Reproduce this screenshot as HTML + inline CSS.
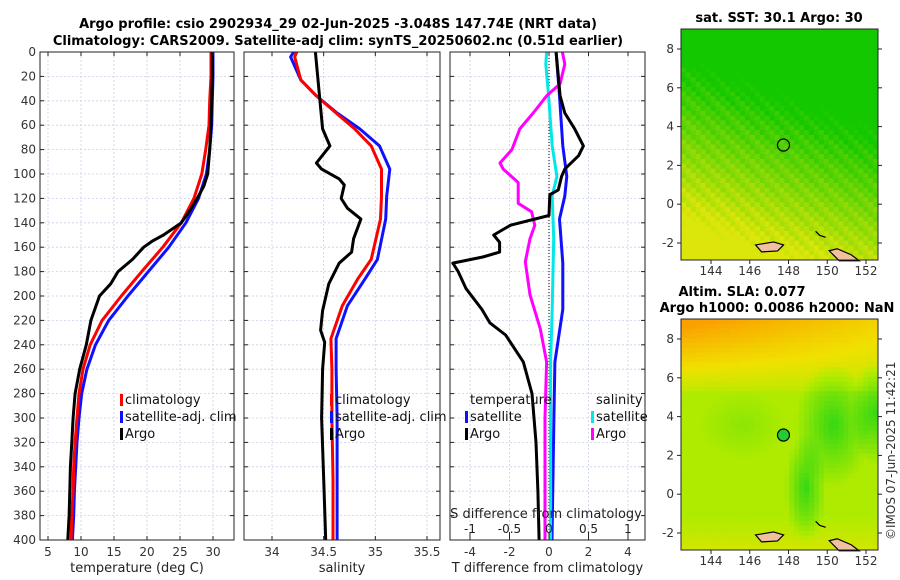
<!DOCTYPE html>
<html><head><meta charset="utf-8"><style>
body{margin:0;background:#fff;}
svg{display:block;font-family:"DejaVu Sans","Liberation Sans",sans-serif;}
</style></head><body>
<svg id="fig" width="900" height="580" viewBox="0 0 900 580">
<g id="static">
<text x="338" y="28" font-size="13" font-weight="bold" text-anchor="middle">Argo profile: csio 2902934_29 02-Jun-2025 -3.048S 147.74E (NRT data)</text>
<text x="338" y="45" font-size="13" font-weight="bold" text-anchor="middle">Climatology: CARS2009. Satellite-adj clim: synTS_20250602.nc (0.51d earlier)</text>
<text x="779" y="22" font-size="13" font-weight="bold" text-anchor="middle">sat. SST: 30.1 Argo: 30</text>
<text x="742" y="296" font-size="13" font-weight="bold" text-anchor="middle">Altim. SLA: 0.077</text>
<text x="777" y="312" font-size="13" font-weight="bold" text-anchor="middle">Argo h1000: 0.0086 h2000: NaN</text>
<text transform="translate(895,540) rotate(-90)" font-size="12" fill="#333">©IMOS 07-Jun-2025 11:42:21</text>
</g>
</svg>
<script>
// ---------- data ----------
const depthTicks=[0,20,40,60,80,100,120,140,160,180,200,220,240,260,280,300,320,340,360,380,400];
const tempTicks=[5,10,15,20,25,30];
const salTicks=[34,34.5,35,35.5];
const salTickLabels=["34","34.5","35","35.5"];
const tdiffTicks=[-4,-2,0,2,4];
const sdiffTicks=[-1,-0.5,0,0.5,1];
const sdiffTickLabels=["-1","-0.5","0","0.5","1"];
const lonTicks=[144,146,148,150,152];
const latTicks=[-2,0,2,4,6,8];

const climDepth=[0,20,40,60,80,100,120,140,160,180,200,220,240,260,280,300,320,340,360,380,400];
const climTemp=[29.7,29.7,29.5,29.4,28.9,28.3,27.1,25.2,22.4,19.2,16.1,13.2,11.4,10.3,9.7,9.4,9.1,8.9,8.8,8.6,8.5];
const satTemp=[30.0,30.0,29.9,29.8,29.5,29.0,27.8,25.9,23.3,20.2,17.1,14.2,12.2,10.9,10.1,9.7,9.4,9.2,9.0,8.9,8.7];

const salDepth=[0,4,23,36,50,63,77,96,118,137,170,186,208,235,260,300,350,400];
const climSal=[34.24,34.22,34.28,34.43,34.62,34.8,34.96,35.06,35.06,35.05,34.96,34.83,34.68,34.57,34.58,34.58,34.59,34.59];
const satSal=[34.21,34.18,34.28,34.43,34.63,34.85,35.04,35.14,35.11,35.1,35.02,34.9,34.73,34.62,34.62,34.63,34.63,34.63];
const argoSalDepth=[0,36,63,77,91,96,104,109,120,128,137,153,164,173,190,212,228,238,260,300,350,400];
const argoSal=[34.42,34.46,34.49,34.56,34.43,34.48,34.65,34.70,34.67,34.73,34.86,34.79,34.77,34.65,34.55,34.49,34.47,34.51,34.49,34.48,34.5,34.52];

const argoDepth=[0,20,40,60,80,100,110,120,130,140,150,155,160,170,180,190,200,220,240,260,280,300,320,340,360,380,400];
const argoTemp=[29.9,29.9,29.8,29.7,29.5,29.2,28.6,27.6,26.5,25.2,22.5,20.8,19.5,17.8,15.6,14.5,12.8,11.5,10.8,9.8,9.1,8.8,8.6,8.4,8.3,8.2,8.0];

const tdDepth=[0,36,50,63,77,85,96,102,113,117,134,142,150,156,164,168,173,180,194,211,222,232,254,280,320,360,400];
const argoTdiff=[0.36,0.56,0.8,1.3,1.74,1.5,0.8,0.64,0.47,0.04,0.0,-1.95,-2.8,-2.5,-2.5,-3.35,-4.87,-4.6,-4.2,-3.4,-3.0,-2.2,-1.3,-0.86,-0.66,-0.56,-0.5];
const satTdDepth=[0,36,77,102,118,137,173,211,254,300,400];
const satTdiff=[0.36,0.53,0.7,0.9,0.8,0.53,0.7,0.7,0.3,0.25,0.15];
const cyDepth=[0,10,36,77,102,118,153,211,254,300,400];
const satSdiff=[-0.03,-0.04,-0.005,0.04,0.1,0.04,0.06,0.04,0.02,0.02,0.02];
const mgDepth=[0,10,26,36,50,63,80,91,96,107,118,124,131,142,153,172,199,227,254,300,400];
const argoSdiff=[0.17,0.2,0.14,-0.03,-0.2,-0.37,-0.47,-0.62,-0.58,-0.39,-0.39,-0.39,-0.22,-0.18,-0.24,-0.3,-0.24,-0.11,-0.03,-0.05,-0.05];

// ---------- helpers ----------
const NS="http://www.w3.org/2000/svg";
const svg=document.getElementById('fig');
function mk(tag,attrs,parent){const e=document.createElementNS(NS,tag);for(const k in attrs)e.setAttribute(k,attrs[k]);(parent||svg).appendChild(e);return e;}
const Y0=52,Y1=540;
const yD=d=>Y0+(d/400)*(Y1-Y0);
function lin(d0,d1,r0,r1){return v=>r0+(v-d0)/(d1-d0)*(r1-r0);}

const panels=[
 {x0:40,x1:234,name:'temperature-panel',xs:lin(5,30,48,213),ticks:tempTicks,labels:tempTicks.map(String),xlabel:'temperature (deg C)'},
 {x0:244,x1:440,name:'salinity-panel',xs:lin(34,35.5,272,427),ticks:salTicks,labels:salTickLabels,xlabel:'salinity'},
 {x0:450,x1:645,name:'difference-panel',xs:lin(-4,4,470,628),ticks:tdiffTicks,labels:tdiffTicks.map(String),xlabel:'T difference from climatology'}
];
panels.forEach((p,i)=>{
 const g=mk('g',{});
 
 
 depthTicks.forEach(d=>{const l=mk('line',{x1:p.x0,x2:p.x1,y1:yD(d),y2:yD(d),stroke:'#c8d0e8','stroke-width':0.8,'stroke-dasharray':'2,2'},g);
  });
 p.ticks.forEach(t=>{const l=mk('line',{x1:p.xs(t),x2:p.xs(t),y1:Y0,y2:Y1,stroke:'#c8d0e8','stroke-width':0.8,'stroke-dasharray':'2,2'},g);
  });
 p.g=g;
});
{const l=mk('line',{x1:panels[2].xs(0),x2:panels[2].xs(0),y1:Y0,y2:Y1,stroke:'#000','stroke-width':1,'stroke-dasharray':'1,2'},panels[2].g);
 }

function line(g,xs,xv,dv,color,w,name){
 const pts=xv.map((v,i)=>xs(v).toFixed(1)+','+yD(dv[i]).toFixed(1)).join(' ');
 const pl=mk('polyline',{points:pts,fill:'none',stroke:color,'stroke-width':w,'stroke-linejoin':'round'},g);
 
 
}
const P0=panels[0],P1=panels[1],P2=panels[2];
line(P0.g,P0.xs,satTemp,climDepth,'#1010ff',3,'satellite-temp-line');
line(P0.g,P0.xs,climTemp,climDepth,'#ff0000',3,'climatology-temp-line');
line(P0.g,P0.xs,argoTemp,argoDepth,'#000',3,'argo-temp-line');
line(P1.g,P1.xs,satSal,salDepth,'#1010ff',3,'satellite-sal-line');
line(P1.g,P1.xs,climSal,salDepth,'#ff0000',3,'climatology-sal-line');
line(P1.g,P1.xs,argoSal,argoSalDepth,'#000',3,'argo-sal-line');
const sdx=lin(-1,1,470,628);
line(P2.g,P2.xs,satTdiff,satTdDepth,'#1010ff',3,'satellite-tdiff-line');
line(P2.g,sdx,satSdiff,cyDepth,'#00e8e8',3,'satellite-sdiff-line');
line(P2.g,sdx,argoSdiff,mgDepth,'#ff00ff',3,'argo-sdiff-line');
line(P2.g,P2.xs,argoTdiff,tdDepth,'#000',3,'argo-tdiff-line');

panels.forEach((p,i)=>{
 const g=p.g;
 const r=mk('rect',{x:p.x0,y:Y0,width:p.x1-p.x0,height:Y1-Y0,fill:'none',stroke:'#222','stroke-width':1},g);
 
 depthTicks.forEach(d=>{
  mk('line',{x1:p.x0,x2:p.x0+4,y1:yD(d),y2:yD(d),stroke:'#222'},g);
  mk('line',{x1:p.x1,x2:p.x1-4,y1:yD(d),y2:yD(d),stroke:'#222'},g);
  if(i===0){const t=mk('text',{x:p.x0-4,y:yD(d)+4,'font-size':12,'text-anchor':'end',fill:'#333'},g);t.textContent=d;
   }
 });
 p.ticks.forEach((v,k)=>{
  mk('line',{x1:p.xs(v),x2:p.xs(v),y1:Y1,y2:Y1-4,stroke:'#222'},g);
  mk('line',{x1:p.xs(v),x2:p.xs(v),y1:Y0,y2:Y0+4,stroke:'#222'},g);
  const t=mk('text',{x:p.xs(v),y:556,'font-size':12,'text-anchor':'middle',fill:'#333'},g);t.textContent=p.labels[k];
  
 });
 const xl=mk('text',{x:(p.x0+p.x1)/2,y:572,'font-size':13,'text-anchor':'middle',fill:'#222'},g);xl.textContent=p.xlabel;
 
});
sdiffTicks.forEach((v,k)=>{
 mk('line',{x1:sdx(v),x2:sdx(v),y1:Y1,y2:Y1-8,stroke:'#222'});
 const t=mk('text',{x:sdx(v),y:533,'font-size':12,'text-anchor':'middle',fill:'#222'});t.textContent=sdiffTickLabels[k];
 
});
{const t=mk('text',{x:546,y:518,'font-size':13,'text-anchor':'middle',fill:'#222'});t.textContent='S difference from climatology';
 }

function legend(x,y,items,name){
 const g=mk('g',{});
 items.forEach((it,k)=>{
  const yy=y+k*17;
  if(it[1]){const m=mk('rect',{x:x,y:yy-10,width:3,height:12,fill:it[1]},g);}
  const t=mk('text',{x:x+5,y:yy,'font-size':13,fill:'#111'},g);t.textContent=it[0];
  
 });
}
legend(120,404,[['climatology','#ff0000'],['satellite-adj. clim','#1010ff'],['Argo','#000']],'temperature-legend');
legend(330,404,[['climatology','#ff0000'],['satellite-adj. clim','#1010ff'],['Argo','#000']],'salinity-legend');
legend(465,404,[['temperature',null],['satellite','#1010ff'],['Argo','#000']],'tdiff-legend');
legend(591,404,[['salinity',null],['satellite','#00e8e8'],['Argo','#ff00ff']],'sdiff-legend');

// ---------- maps ----------
function slaColor(s){
 const stops=[[0,[50,215,20]],[0.5,[175,235,0]],[0.7,[240,225,0]],[1,[250,160,0]]];
 for(let k=1;k<stops.length;k++){if(s<=stops[k][0]){const a=stops[k-1],b=stops[k],t=(s-a[0])/(b[0]-a[0]);
  return 'rgb('+a[1].map((c,q)=>Math.round(c+(b[1][q]-c)*t)).join(',')+')';}}
 return 'rgb(250,160,0)';
}
function mapPanel(top,bottom,lat8,latm2,kind,name){
 const x0=681,x1=878;
 const g=mk('g',{});
 const lonX=lin(144,152,711,866), latY=lin(8,-2,lat8,latm2);
 const n=40,m=48,cw=(x1-x0)/n,ch=(bottom-top)/m;
 for(let i=0;i<n;i++)for(let j=0;j<m;j++){
  const fx=i/n,fy=j/m;let c;
  if(kind==='sst'){
   const s=Math.min(1,Math.max(0,(fy-0.35)*1.6 - (fx-0.4)*0.5 + ((i*7+j*13)%5)*0.05));
   const r=Math.round(20+200*s),gg=Math.round(200+30*s),b=Math.round(10*s);c=`rgb(${r},${gg},${b})`;
  }else{
   let s;
   if(fy<0.3) s=0.55+(0.3-fy)*1.3+(0.35-fx)*0.3*(0.3-fy)*3;
   else s=0.5;
   const blobs=[[0.76,0.45,0.13,0.18],[0.62,0.72,0.07,0.16],[0.97,0.4,0.08,0.15],[0.3,0.45,0.15,0.1]];
   blobs.forEach(bb=>{const d=Math.hypot((fx-bb[0])/bb[2],(fy-bb[1])/bb[3]);if(d<1.5)s-=0.35*Math.max(0,1-d/1.5)*(bb===blobs[3]?0.4:1.4);});
   if(fy>0.85) s+=(fy-0.85)*0.8;
   s=Math.min(1,Math.max(0,s));
   c=slaColor(s);
  }
  mk('rect',{x:(x0+i*cw).toFixed(2),y:(top+j*ch).toFixed(2),width:(cw+0.5).toFixed(2),height:(ch+0.5).toFixed(2),fill:c},g);
 }
 mk('path',{d:`M${lonX(146.3)} ${latY(-2.1)} l18 -3 l10 3 l-6 6 l-16 1 z`,fill:'#f0c0a0',stroke:'#000','stroke-width':1.2},g);
 mk('path',{d:`M${lonX(150.1)} ${latY(-2.4)} l8 -2 l14 6 l8 6 l-20 0 z`,fill:'#f0c0a0',stroke:'#000','stroke-width':1.2},g);
 mk('path',{d:`M${lonX(149.4)} ${latY(-1.4)} l4 4 l6 2`,fill:'none',stroke:'#000','stroke-width':1.2},g);
 const c=mk('ellipse',{cx:lonX(147.74),cy:latY(3.05),rx:6,ry:6,fill:kind==='sst'?'none':'#22cc33',stroke:'#000','stroke-width':1.2},g);
 
 mk('rect',{x:x0,y:top,width:x1-x0,height:bottom-top,fill:'none',stroke:'#222'},g);
 lonTicks.forEach(v=>{mk('line',{x1:lonX(v),x2:lonX(v),y1:bottom,y2:bottom+4,stroke:'#222'},g);
  const t=mk('text',{x:lonX(v),y:bottom+15,'font-size':12,'text-anchor':'middle',fill:'#333'},g);t.textContent=v;
  });
 latTicks.forEach(v=>{mk('line',{x1:x0,x2:x0-4,y1:latY(v),y2:latY(v),stroke:'#222'},g);
  mk('line',{x1:x1,x2:x1+4,y1:latY(v),y2:latY(v),stroke:'#222'},g);
  const t=mk('text',{x:x0-7,y:latY(v)+4,'font-size':12,'text-anchor':'end',fill:'#333'},g);t.textContent=v;
  });
}
mapPanel(29,260,49,243,'sst','sst-map');
mapPanel(319,550,339,533,'sla','sla-map');
</script>
</body></html>
